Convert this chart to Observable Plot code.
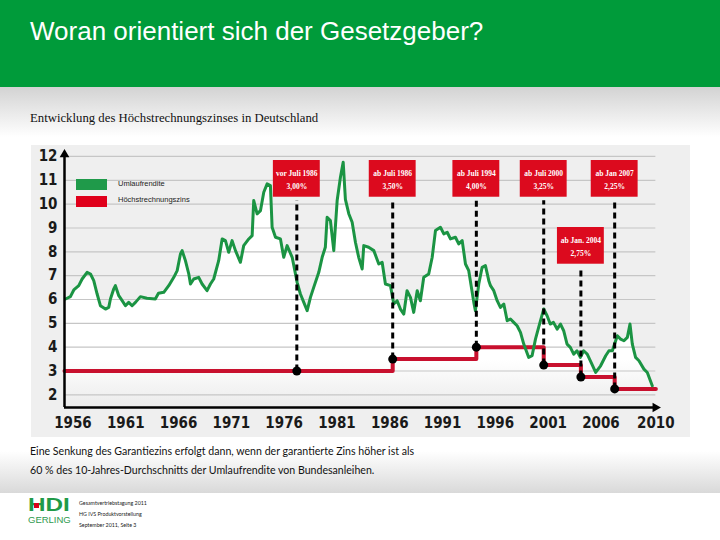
<!DOCTYPE html>
<html><head><meta charset="utf-8">
<script src="https://cdn.jsdelivr.net/npm/d3@7"></script>
<script src="https://cdn.jsdelivr.net/npm/@observablehq/plot@0.6"></script>
<style>
body{margin:0;width:720px;height:540px;position:relative;background:#fff;overflow:hidden;font-family:"Liberation Sans",Arial,sans-serif}
#banner{position:absolute;left:0;top:0;width:720px;height:87px;background:#009b3a}
#title{position:absolute;left:30px;top:18px;color:#fff;font-size:26px;line-height:26px;font-family:"Liberation Sans",Arial,sans-serif;white-space:nowrap}
#fade1{position:absolute;left:0;top:87px;width:720px;height:50px;background:linear-gradient(#d3d3d3,#fff)}
#subtitle{position:absolute;left:30px;top:112px;font-size:12.75px;line-height:12.75px;font-family:"Liberation Serif",serif;color:#111;white-space:nowrap}
#chart{position:absolute;left:31px;top:145px}
#fade2{position:absolute;left:0;top:437px;width:720px;height:56px;background:linear-gradient(#fff 0%,#fff 25%,#d9d9d9 100%)}
#note{position:absolute;left:30px;top:442px;font-size:10.6px;line-height:19px;font-family:Lato,"Open Sans",sans-serif;color:#111;white-space:nowrap}
.sw{position:absolute;width:31px;height:11px}
.lg{position:absolute;font-size:7.5px;line-height:7.5px;font-family:"Liberation Sans",sans-serif;color:#222;white-space:nowrap}
#hdi{position:absolute;left:28px;top:496px;font-size:18px;line-height:18px;font-weight:900;color:#1f9a48;font-family:"Liberation Sans",Arial,sans-serif;transform:scaleX(1.35);transform-origin:0 0}
#hdot{position:absolute;left:34px;top:503px;width:5px;height:5px;background:#d9001b}
#gerling{position:absolute;left:28px;top:515px;font-size:9.5px;line-height:10px;color:#2f9a4e;font-family:"Liberation Sans",Arial,sans-serif}
#meta{position:absolute;left:79px;top:498px;font-size:5.3px;line-height:11px;color:#222;font-family:Lato,sans-serif;white-space:nowrap}
</style></head>
<body>
<div id="banner"></div>
<div id="title">Woran orientiert sich der Gesetzgeber?</div>
<div id="fade1"></div>
<div id="subtitle">Entwicklung des Höchstrechnungszinses in Deutschland</div>
<div id="fade2"></div>
<div id="chart"></div>
<div class="sw" style="left:76px;top:179px;background:#1f9a4a"></div>
<div class="sw" style="left:76px;top:196px;background:#e0001b"></div>
<div class="lg" id="lg1" style="left:118px;top:180px"></div>
<div class="lg" id="lg2" style="left:118px;top:196px"></div>
<div id="note"></div>
<div id="hdi">HDI</div><div id="hdot"></div>
<div id="gerling">GERLING</div>
<div id="meta">Gesamtvertriebstagung 2011<br>HG IVS Produktvorstellung<br>September 2011, Seite 3</div>
<script>
// ---- data ----
const seriesNames = ["Umlaufrendite", "Höchstrechnungszins"];
const yieldYears = [1955.3,1955.76,1956.08,1956.55,1956.87,1957.34,1957.66,1957.97,1958.29,1958.6,1959.08,1959.39,1959.55,1959.86,1960.02,1960.34,1960.66,1960.97,1961.28,1961.6,1961.92,1962.39,1963.0,1963.8,1964.1,1964.6,1965.07,1965.55,1965.87,1966.18,1966.34,1966.65,1966.97,1967.13,1967.44,1967.91,1968.23,1968.7,1969.02,1969.33,1969.8,1970.13,1970.44,1970.75,1971.07,1971.39,1971.86,1972.17,1972.65,1972.97,1973.12,1973.44,1973.76,1974.07,1974.39,1974.7,1974.86,1975.18,1975.65,1975.96,1976.28,1976.76,1977.23,1977.54,1977.86,1978.18,1978.49,1978.8,1979.28,1979.6,1979.9,1980.07,1980.38,1980.7,1981.02,1981.33,1981.59,1981.8,1982.12,1982.44,1982.75,1983.06,1983.39,1983.54,1984.0,1984.49,1984.96,1985.28,1985.59,1986.07,1986.38,1986.7,1987.01,1987.33,1987.64,1987.96,1988.27,1988.6,1988.9,1989.22,1989.69,1990.02,1990.33,1990.8,1991.12,1991.44,1991.75,1992.22,1992.53,1992.86,1993.17,1993.48,1993.96,1994.11,1994.43,1994.75,1995.06,1995.38,1995.54,1995.85,1996.17,1996.48,1996.8,1997.12,1997.43,1997.74,1998.06,1998.38,1998.69,1999.16,1999.48,1999.8,2000.1,2000.58,2000.9,2001.2,2001.5,2001.85,2002.17,2002.47,2002.79,2003.1,2003.42,2003.73,2004.05,2004.36,2004.7,2005.0,2005.5,2005.97,2006.45,2006.76,2007.08,2007.55,2007.86,2008.18,2008.5,2008.75,2008.97,2009.28,2009.6,2010.07,2010.39,2010.86];
const yieldValues = [6.02,6.12,6.40,6.58,6.86,7.14,7.07,6.79,6.23,5.74,5.60,5.67,6.02,6.44,6.58,6.16,5.95,5.74,5.88,5.74,5.88,6.12,6.05,6.02,6.26,6.30,6.58,6.93,7.21,7.91,8.05,7.63,7.07,6.65,6.86,6.93,6.65,6.37,6.65,6.86,7.63,8.54,8.47,7.98,8.47,8.05,7.56,8.26,8.54,8.68,10.15,9.59,9.73,10.50,10.85,10.78,9.03,8.61,8.54,7.77,8.26,7.77,6.72,6.23,5.88,5.53,6.09,6.51,7.14,7.77,8.19,9.45,9.31,8.05,10.15,11.13,11.76,10.2,9.6,9.24,8.40,7.77,7.28,8.26,8.19,8.05,7.49,7.56,6.65,6.58,5.81,5.95,5.60,5.39,6.37,6.09,5.46,6.37,5.95,6.93,7.07,7.77,8.89,9.03,8.75,8.82,8.54,8.61,8.33,8.47,7.49,7.21,5.88,5.53,6.65,7.35,7.42,6.79,6.58,6.37,5.95,5.67,5.81,5.11,5.18,5.04,4.90,4.62,4.13,3.57,3.64,4.34,4.83,5.60,5.32,4.97,5.04,4.76,4.97,4.69,4.13,3.99,3.71,3.85,3.57,3.85,3.71,3.43,2.94,3.22,3.64,3.85,3.85,4.48,4.34,4.27,4.41,4.97,4.13,3.57,3.43,3.08,2.94,2.38];
// Höchstrechnungszins steps (start year of each rate, final end)
const rateStarts = [1955.2, 1986.28, 1994.2, 2000.58, 2004.1, 2007.3];
const rateValues = [3.00, 3.50, 4.00, 3.25, 2.75, 2.25];
const rateEnd = 2011.2;
// annotations
const annoYears = [1977.2, 1986.28, 1994.2, 2000.58, 2004.1, 2007.3];
const annoLine1 = ["vor Juli 1986", "ab Juli 1986", "ab Juli 1994", "ab Juli 2000", "ab Jan. 2004", "ab Jan 2007"];
const annoLine2 = ["3,00%", "3,50%", "4,00%", "3,25%", "2,75%", "2,25%"];
const annoRates = [3.00, 3.50, 4.00, 3.25, 2.75, 2.25];
const annoBoxLevel = [11.06, 11.06, 11.06, 11.06, 8.25, 11.06];
// axes
const yTicks = [2,3,4,5,6,7,8,9,10,11,12];
const xTickValues = [1956,1961,1966,1971,1976,1981,1986,1991,1996,2001,2006,2011.2];
const xTickLabels = ["1956","1961","1966","1971","1976","1981","1986","1991","1996","2001","2006","2010"];
const noteLines = ["Eine Senkung des Garantiezins erfolgt dann, wenn der garantierte Zins höher ist als", "60 % des 10-Jahres-Durchschnitts der Umlaufrendite von Bundesanleihen."];

// ---- build ----
document.getElementById("lg1").textContent = seriesNames[0];
document.getElementById("lg2").textContent = seriesNames[1];
document.getElementById("note").innerHTML = noteLines.join("<br>");

const xDomain = [1955.2, 2011.45];
const yDomain = [1.47, 12.25];
const series = yieldYears.map((x, i) => ({x, y: yieldValues[i]}));
const steps = rateStarts.map((x, i) => ({x, y: rateValues[i]})).concat([{x: rateEnd, y: rateValues[rateValues.length - 1]}]);
const annos = annoYears.map((x, i) => ({x, rate: annoRates[i], lvl: annoBoxLevel[i], t: annoLine1[i] + "\n" + annoLine2[i]}));
const boxH = 0.77, boxW = 2.22;
const tickFont = "'Liberation Sans Narrow','Arial Narrow','DejaVu Sans Condensed',sans-serif";

const svg = Plot.plot({
  width: 659, height: 292,
  marginLeft: 33, marginRight: 32, marginTop: 5, marginBottom: 30,
  style: "background:#efefef;overflow:visible",
  x: {type: "linear", domain: xDomain},
  y: {domain: yDomain},
  marks: [
    Plot.areaY(series, {x: "x", y1: yDomain[0], y2: "y", fill: "url(#areaFade)"}),
    Plot.ruleY(yTicks, {x1: xDomain[0], x2: rateEnd, stroke: "#c6c6c6", strokeWidth: 1.2}),
    Plot.line(steps, {x: "x", y: "y", curve: "step-after", stroke: "#c8102e", strokeWidth: 4}),
    Plot.line(series, {x: "x", y: "y", stroke: "#1b9443", strokeWidth: 3, strokeLinejoin: "round"}),
    Plot.ruleX(annos, {x: "x", y1: "rate", y2: d => d.lvl - boxH - 0.15, stroke: "#000", strokeWidth: 3, strokeDasharray: "6,4"}),
    Plot.dot(annos, {x: "x", y: "rate", r: 4.5, fill: "#000"}),
    Plot.rect(annos, {x1: d => d.x - boxW, x2: d => d.x + boxW, y1: d => d.lvl - boxH, y2: d => d.lvl + boxH, fill: "#dc0a1e"}),
    Plot.text(annos, {x: "x", y: "lvl", text: "t", fill: "#fff", fontSize: 7.5, fontWeight: "bold", fontFamily: "'Liberation Serif',serif", lineHeight: 1.75, dy: -1}),
    Plot.ruleX([xDomain[0]], {y1: yDomain[0], y2: 12.05, stroke: "#000", strokeWidth: 2.5}),
    Plot.ruleY([yDomain[0]], {x1: xDomain[0], x2: xDomain[1] - 0.35, stroke: "#000", strokeWidth: 2.5}),
    Plot.dot([0], {x: xDomain[0], y: yDomain[1] - 0.17, symbol: "triangle", r: 3.6, fill: "#000"}),
    Plot.dot([0], {x: xDomain[1] - 0.3, y: yDomain[0], symbol: "triangle", r: 3.6, fill: "#000", rotate: 90}),
    Plot.axisY(yTicks, {tickSize: 0, tickPadding: 7, fontSize: 15, fontWeight: "bold", fontFamily: tickFont, fill: "#1a1a1a", label: null}),
    Plot.axisX(xTickValues, {tickSize: 0, tickPadding: 10, tickFormat: d => xTickLabels[xTickValues.indexOf(d)], fontSize: 15, fontWeight: "bold", fontFamily: tickFont, fill: "#1a1a1a", label: null})
  ]
});
const ns = "http://www.w3.org/2000/svg";
const defs = document.createElementNS(ns, "defs");
defs.innerHTML = '<linearGradient id="areaFade" gradientUnits="userSpaceOnUse" x1="0" y1="215" x2="0" y2="262"><stop offset="0" stop-color="#ffffff"/><stop offset="1" stop-color="#ebebeb"/></linearGradient>';
svg.insertBefore(defs, svg.firstChild);
document.getElementById("chart").appendChild(svg);
</script>
</body></html>
